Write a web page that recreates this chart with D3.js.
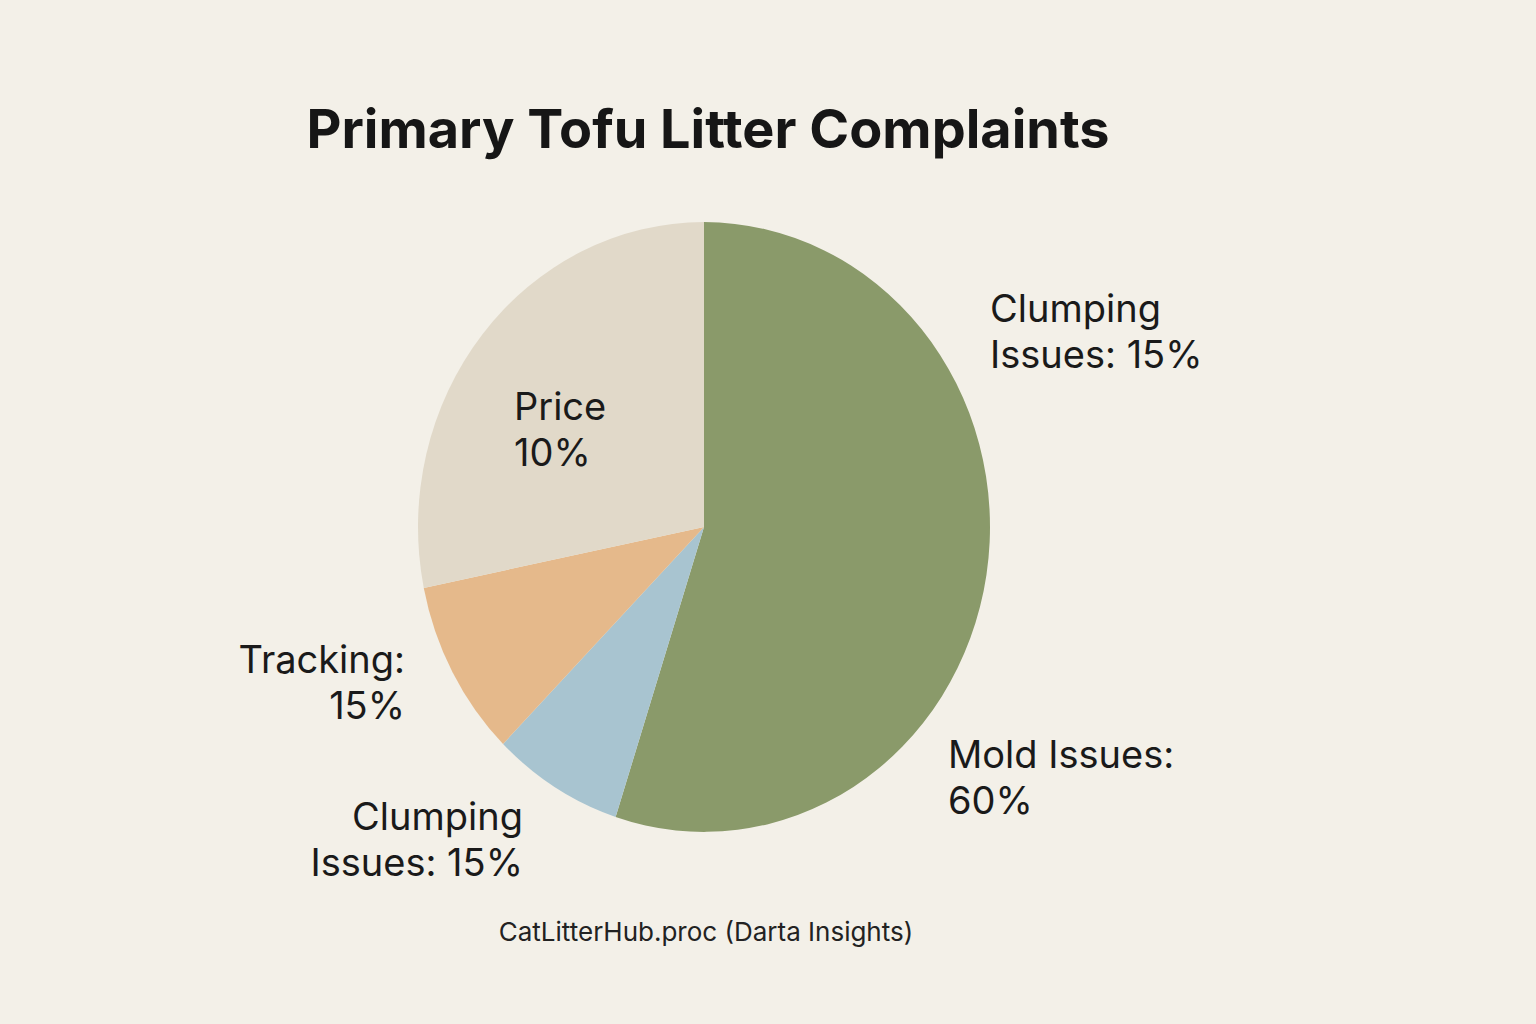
<!DOCTYPE html>
<html><head><meta charset="utf-8">
<script src="https://cdn.jsdelivr.net/npm/d3@7"></script>
<style>body{margin:0;background:#f3f0e8;}svg{display:block;}</style>
</head><body>
<svg id="c" width="1536" height="1024"></svg>
<script>
const categories = ["Mold Issues", "Clumping Issues (bottom)", "Tracking", "Price"];
const sliceValues = [55, 7.4, 9.4, 28.2];
const labelLines = [["Clumping", "Issues: 15%"], ["Price", "10%"], ["Tracking:", "15%"], ["Clumping", "Issues: 15%"], ["Mold Issues:", "60%"]];
const colors = ["#8a9a6a", "#a8c4d0", "#e5b98b", "#e1d9c9"];
const title = "Primary Tofu Litter Complaints";
const source = "CatLitterHub.proc  (Darta Insights)";

const svg = d3.select("#c");
svg.append("rect").attr("width",1536).attr("height",1024).attr("fill","#f3f0e8");
svg.append("text").attr("x",708).attr("y",148).attr("text-anchor","middle")
  .attr("font-family","Inter, 'Noto Sans', sans-serif").attr("font-weight",700)
  .attr("font-size",54).attr("fill","#161616").text(title);

const cx=704, cy=527;
const g = svg.append("g").attr("transform",`translate(${cx},${cy}) scale(1,1.066)`);
const pie = d3.pie().sort(null).value(d=>d);
const arc = d3.arc().innerRadius(0).outerRadius(286);
g.selectAll("path").data(pie(sliceValues)).join("path")
  .attr("d",arc).attr("fill",(d,i)=>colors[i]);

// label layout: [x, y, anchor]
const layout = [[990,322,"start"],[514,420,"start"],[405,673,"end"],[523,830,"end"],[948,768,"start"]];
labelLines.forEach((lines,i)=>{
  const [x,y,a]=layout[i];
  const t = svg.append("text").attr("x",x).attr("y",y).attr("text-anchor",a)
    .attr("font-family","Inter, 'Noto Sans', sans-serif").attr("font-size",38).attr("fill","#1a1a1a");
  lines.forEach((l,j)=>t.append("tspan").attr("x",x).attr("dy",j?46:0).text(l));
});
svg.append("text").attr("x",706).attr("y",941).attr("text-anchor","middle")
  .attr("font-family","Inter, 'Noto Sans', sans-serif").attr("font-size",26).attr("fill","#222").text(source);
</script>
</body></html>
